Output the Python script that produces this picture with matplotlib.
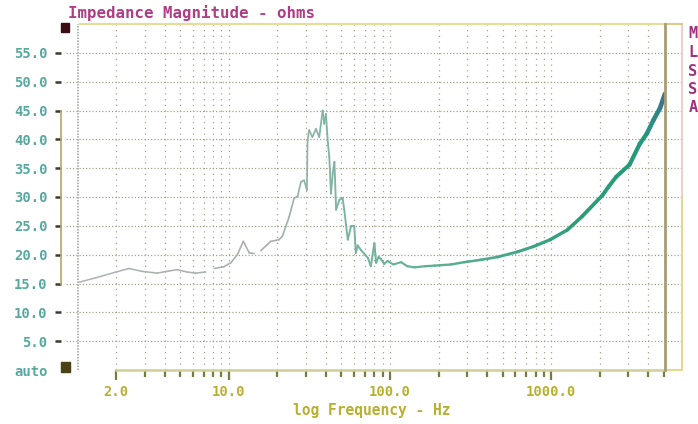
import numpy as np
import matplotlib
matplotlib.use('Agg')
import matplotlib.pyplot as plt
from matplotlib.collections import LineCollection
from matplotlib.colors import LinearSegmentedColormap
from matplotlib.patches import Rectangle
import matplotlib.transforms as mtrans

# ---------------- data ----------------
freq_hz = [1.17, 1.5, 2.0, 2.4, 2.9, 3.6, 4.3, 4.8, 5.5, 6.2, 7.2, np.nan,
           8.1, 9.3, 10.3, 11.3, 12.3, 13.4, 14.4, np.nan,
           15.8, 18.2, 20.5, 21.5, 23.7, 25.4, 26.7, 28.0, 29.3, 30.5, 30.8,
           31.5, 33.0, 34.7, 36.4, 38.2, 39.1, 40.0, 41.2, 42.0, 43.0, 44.1,
           45.2, 46.3, 48.5, 50.8, 52.0, 54.7, 57.3, 60.0, 61.4, 63.0, 66.0,
           70.0, 73.0, 76.0, 80.0, 82.0, 85.0, 88.0, 92.0, 96.5, 105, 117,
           128, 142, 165, 189, 239, 289, 365, 465,
           619, 775, 985, 1260, 1550, 2080, 2270, 2530, 3060, 3540, 3920,
           4300, 4730, 5080]
impedance_ohm = [15.2, 16.0, 17.0, 17.6, 17.1, 16.8, 17.2, 17.4, 17.0, 16.8, 17.0, np.nan,
                 17.6, 17.9, 18.6, 20.0, 22.3, 20.3, 20.2, np.nan,
                 20.7, 22.3, 22.6, 23.2, 26.6, 29.8, 30.1, 32.6, 32.9, 31.2, 39.8,
                 41.6, 40.4, 41.8, 40.4, 45.0, 42.7, 44.4, 39.3, 37.0, 30.6, 34.1,
                 36.1, 27.8, 29.5, 29.8, 27.8, 22.6, 24.9, 24.9, 20.3, 21.6, 20.8,
                 20.0, 19.4, 18.0, 22.0, 18.6, 19.6, 19.2, 18.4, 18.9, 18.3, 18.7,
                 18.0, 17.8, 18.0, 18.1, 18.3, 18.7, 19.1, 19.6,
                 20.5, 21.4, 22.6, 24.3, 26.6, 30.3, 31.8, 33.5, 35.6, 39.2, 41.0,
                 43.3, 45.4, 47.9]

y_ticks = [0, 5, 10, 15, 20, 25, 30, 35, 40, 45, 50, 55]
y_tick_labels = ['auto', '5.0', '10.0', '15.0', '20.0', '25.0', '30.0',
                 '35.0', '40.0', '45.0', '50.0', '55.0']
x_major_ticks = [2, 10, 100, 1000]
x_major_labels = ['2.0', '10.0', '100.0', '1000.0']
x_grid_freqs = [m * 10 ** k for k in range(0, 4) for m in range(1, 10)]

title_text = 'Impedance Magnitude - ohms'
xlabel_text = 'log Frequency - Hz'
side_text = ['M', 'L', 'S', 'S', 'A']

# ---------------- figure ----------------
W, H = 698, 424
fig = plt.figure(figsize=(W / 100, H / 100), dpi=100)
fig.patch.set_facecolor('white')
L, R, T, B = 78, 665, 24, 370
ax = fig.add_axes([L / W, 1 - B / H, (R - L) / W, (B - T) / H])
ax.set_xscale('log')
ax.set_xlim(1.16, 5080)
ax.set_ylim(0, 60)
for s in ax.spines.values():
    s.set_visible(False)

mono = {'family': 'DejaVu Sans Mono', 'weight': 'bold'}
grid_c = '#a4a48c'

def fx(px):  # pixel x -> axes fraction
    return (px - L) / (R - L)

blend_y = mtrans.blended_transform_factory(ax.transAxes, ax.transData)
blend_x = mtrans.blended_transform_factory(ax.transData, ax.transAxes)

# horizontal dotted grid
for y in y_ticks[1:]:
    ax.plot([fx(66), fx(682)], [y, y], transform=blend_y, color=grid_c,
            lw=0.9, ls=(0, (1, 1.6)), clip_on=False, zorder=1)
    ax.plot([fx(55), fx(61)], [y, y], transform=blend_y, color='#3c3c2c',
            lw=1.8, clip_on=False, zorder=2, solid_capstyle='butt')

# vertical dotted grid
for f in x_grid_freqs:
    if 1.9 < f < 5000:
        ax.plot([f, f], [0, 1], transform=blend_x, color=grid_c, lw=0.9,
                ls=(0, (1, 3.6)), clip_on=False, zorder=1)

# left axis dotted line
ax.plot([0, 0], [0, 1], transform=ax.transAxes, color='#98a098', lw=1.1,
        ls=(0, (1, 0.9)), clip_on=False, zorder=2)
# bracket line on the left
ax.plot([fx(61), fx(61)], [15, 45], transform=blend_y, color='#b8a468',
        lw=1.2, clip_on=False, zorder=2)
# top border
ax.plot([fx(80), 1], [1, 1], transform=ax.transAxes, color='#e6dc9c', lw=1.6,
        clip_on=False, zorder=2)
# bottom axis line from 2 Hz
ax.plot([2, 5080], [0, 0], color='#cfcf98', lw=1.8, clip_on=False, zorder=2)

# right box
ax.plot([1, 1], [0, 1], transform=ax.transAxes, color='#a89c74', lw=2.0,
        clip_on=False, zorder=4)
ax.plot([fx(682), fx(682)], [0, 0.5], transform=ax.transAxes, color='#e2d890',
        lw=1.5, clip_on=False, zorder=2)
ax.plot([fx(682), fx(682)], [0.5, 1], transform=ax.transAxes, color='#f0c4c0',
        lw=1.2, clip_on=False, zorder=2)
ax.plot([1, fx(682)], [1, 1], transform=ax.transAxes, color='#d8cc88',
        lw=1.5, clip_on=False, zorder=2)
ax.plot([1, fx(682)], [0, 0], transform=ax.transAxes, color='#e2d890',
        lw=1.5, clip_on=False, zorder=2)

# dark squares
fig.patches.append(Rectangle((61 / W, 1 - 32 / H), 8 / W, 9 / H,
                             transform=fig.transFigure, color='#3c0c14', zorder=5))
fig.patches.append(Rectangle((61 / W, 1 - 372 / H), 9 / W, 10 / H,
                             transform=fig.transFigure, color='#4a4214', zorder=5))

# ---------------- curve ----------------
fr = np.array(freq_hz, dtype=float)
zz = np.array(impedance_ohm, dtype=float)
pts = np.column_stack([fr, zz])
segs, seg_f = [], []
for i in range(len(pts) - 1):
    if np.isnan(pts[i]).any() or np.isnan(pts[i + 1]).any():
        continue
    segs.append([pts[i], pts[i + 1]])
    seg_f.append(np.sqrt(pts[i][0] * pts[i + 1][0]))
seg_f = np.array(seg_f)
lf = np.log10(seg_f)
stops_lf = [0.0, 1.3, 1.6, 2.0, 2.7, 3.2, 3.6, 3.7]
stops_c = ['#b0b4b4', '#a8b0ac', '#80b4a4', '#6ab49a', '#4aa88a', '#2c9c78',
           '#249a7a', '#3a7890']
cmap = LinearSegmentedColormap.from_list(
    'imp', [((v - stops_lf[0]) / (stops_lf[-1] - stops_lf[0]), c)
            for v, c in zip(stops_lf, stops_c)])
norm_v = (lf - stops_lf[0]) / (stops_lf[-1] - stops_lf[0])
colors = cmap(np.clip(norm_v, 0, 1))
widths = np.interp(lf, [0, 1.4, 2.0, 2.5, 3.0, 3.5, 3.7],
                   [1.1, 1.2, 1.5, 1.8, 2.4, 3.0, 3.4])
lc = LineCollection(segs, colors=colors, linewidths=widths,
                    capstyle='round', joinstyle='round', zorder=3)
ax.add_collection(lc)

# ---------------- ticks & labels ----------------
ax.set_yticks(y_ticks)
ax.set_yticklabels(y_tick_labels)
ax.tick_params(axis='y', length=0, pad=22, labelcolor='#58a8a0',
               labelsize=10)
for t in ax.get_yticklabels():
    t.set_fontfamily('DejaVu Sans Mono')
    t.set_fontweight('bold')

ax.set_xticks(x_major_ticks)
ax.set_xticklabels(x_major_labels)
ax.set_xticks([f for f in x_grid_freqs if 2 < f < 5100 and f not in x_major_ticks],
              minor=True)
ax.xaxis.set_minor_formatter(matplotlib.ticker.NullFormatter())
ax.tick_params(axis='x', which='major', direction='out', length=7, width=1.6,
               color='#7a7a40', pad=4, labelcolor='#b8b030', labelsize=10)
ax.tick_params(axis='x', which='minor', direction='out', length=5, width=1.6,
               color='#7a7a40')
for t in ax.get_xticklabels():
    t.set_fontfamily('DejaVu Sans Mono')
    t.set_fontweight('bold')

fig.text(68 / W, 1 - 13 / H, title_text, color='#b03c84', fontsize=11.3,
         ha='left', va='center', **mono)
fig.text(372 / W, 1 - 410 / H, xlabel_text, color='#b8b030', fontsize=10.5,
         ha='center', va='center', **mono)
for i, ch in enumerate(side_text):
    fig.text(693 / W, 1 - (34 + 18.5 * i) / H, ch, color='#a0307c',
             fontsize=11, ha='center', va='center', **mono)

fig.savefig('out.png', dpi=100, facecolor='white')
